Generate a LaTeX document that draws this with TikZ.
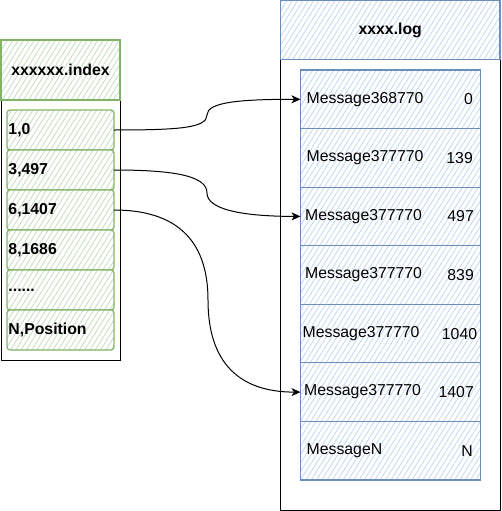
\documentclass[tikz,border=0pt]{standalone}
\usepackage{fontspec}
\setmainfont{Liberation Sans}
\usetikzlibrary{patterns.meta,arrows.meta,calc}
\definecolor{gstroke}{HTML}{82B366}
\definecolor{ghatch}{HTML}{C4DEBF}
\definecolor{bstroke}{HTML}{6C8EBF}
\definecolor{bhatch}{HTML}{C2D8F4}
\tikzset{
  frame/.style={draw=black,line width=1pt,inner sep=0pt,outer sep=0pt},
  gbox/.style={draw=gstroke,line width=1.2pt,inner sep=0pt,outer sep=0pt,
     preaction={fill=white},
     pattern={Lines[angle=58,distance=4.5pt,line width=0.8pt]},pattern color=ghatch},
  bbox/.style={draw=bstroke,line width=1.2pt,inner sep=0pt,outer sep=0pt,
     preaction={fill=white},
     pattern={Lines[angle=58,distance=4.5pt,line width=0.8pt]},pattern color=bhatch},
  ientry/.style={gbox,rounded corners=3pt,minimum width=107pt,minimum height=40pt,
     text width=104pt,align=left,inner xsep=1.5pt,font=\fontsize{15.8}{19}\selectfont\bfseries},
  mentry/.style={bbox,minimum width=180pt,minimum height=58.6pt},
  mtxt/.style={inner sep=0pt,anchor=west,font=\fontsize{15.8}{19}\selectfont},
  ntxt/.style={inner sep=0pt,anchor=east,font=\fontsize{15.8}{19}\selectfont},
  link/.style={draw=black,line width=1pt,-{Stealth[length=9pt,width=8pt,inset=2.5pt]}},
}
\begin{document}
\begin{tikzpicture}[x=1pt,y=-1pt]
\useasboundingbox (0,0) rectangle (501,511);
% left panel
\node[frame,minimum width=119pt,minimum height=320pt] (lout) at (60.5,200) {};
\node[gbox,minimum width=119pt,minimum height=60pt,font=\fontsize{15.8}{19}\selectfont\bfseries] (lhead) at (60.5,70) {xxxxxx.index};
\node[ientry] (e1) at (60.5,130) {1,0};
\node[ientry] (e2) at (60.5,170) {3,497};
\node[ientry] (e3) at (60.5,210) {6,1407};
\node[ientry] (e4) at (60.5,250) {8,1686};
\node[ientry] (e5) at (60.5,290) {......};
\node[ientry] (e6) at (60.5,330) {N,Position};
% right panel
\node[frame,minimum width=219.5pt,minimum height=509.5pt] (rout) at (390.25,255.25) {};
\node[bbox,minimum width=219.5pt,minimum height=59pt,font=\fontsize{15.8}{19}\selectfont\bfseries] (rhead) at (390.25,30) {xxxx.log};
\node[mentry] (m1) at (390.5,99.3) {};
\node[mentry] (m2) at (390.5,157.9) {};
\node[mentry] (m3) at (390.5,216.4) {};
\node[mentry] (m4) at (390.5,275.0) {};
\node[mentry] (m5) at (390.5,333.6) {};
\node[mentry] (m6) at (390.5,392.1) {};
\node[mentry] (m7) at (390.5,450.7) {};
\node[mtxt] (m1l) at (306.5,99.3) {Message368770};
\node[ntxt] (m1n) at (473,99.3) {0};
\node[mtxt] (m2l) at (306.5,157.9) {Message377770};
\node[ntxt] (m2n) at (473,157.9) {139};
\node[mtxt] (m3l) at (305,216.4) {Message377770};
\node[ntxt] (m3n) at (474,216.4) {497};
\node[mtxt] (m4l) at (305,275.0) {Message377770};
\node[ntxt] (m4n) at (474,275.0) {839};
\node[mtxt] (m5l) at (302.5,333.6) {Message377770};
\node[ntxt] (m5n) at (477.3,333.6) {1040};
\node[mtxt] (m6l) at (304,392.1) {Message377770};
\node[ntxt] (m6n) at (474,392.1) {1407};
\node[mtxt] (m7l) at (306.5,450.7) {MessageN};
\node[ntxt] (m7n) at (473,450.7) {N};
% bend points
\coordinate (b1) at (207,115);
\coordinate (b2) at (207,193);
\coordinate (b3) at (208,300);
% connectors
\draw[link] (e1.east) .. controls ($(e1.east)+(65,0)$) and ($(b1)+(0,13)$) .. (b1)
   .. controls ($(b1)+(0,-13)$) and ($(m1.west)+(-60,0)$) .. (m1.west);
\draw[link] (e2.east) .. controls ($(e2.east)+(65,0)$) and ($(b2)+(0,-16)$) .. (b2)
   .. controls ($(b2)+(0,16)$) and ($(m3.west)+(-60,0)$) .. (m3.west);
\draw[link] (e3.east) .. controls ($(e3.east)+(60,0)$) and ($(b3)+(0,-62)$) .. (b3)
   .. controls ($(b3)+(0,62)$) and ($(m6.west)+(-62,0)$) .. (m6.west);
\end{tikzpicture}
\end{document}
